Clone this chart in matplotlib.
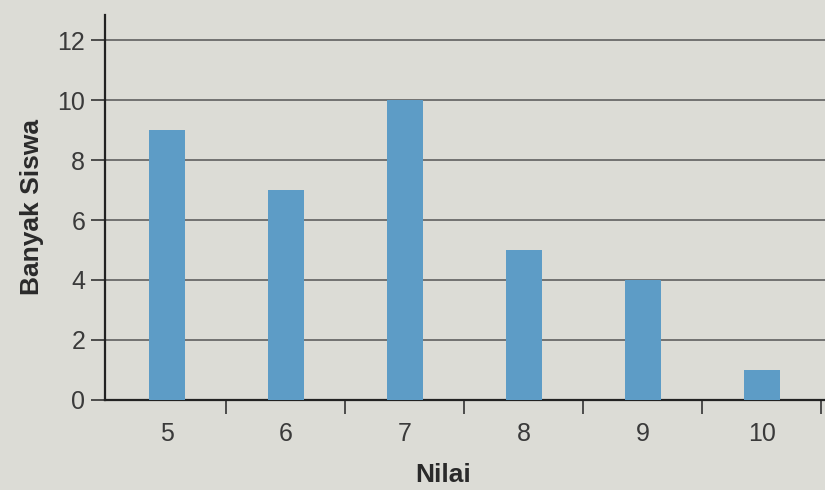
import matplotlib.pyplot as plt
import numpy as np

plt.rcParams['font.family'] = ['Liberation Sans', 'DejaVu Sans']

nilai = [5, 6, 7, 8, 9, 10]
banyak_siswa = [9, 7, 10, 5, 4, 1]
y_ticks = [0, 2, 4, 6, 8, 10, 12]

bg = '#dcdcd6'
fig = plt.figure(figsize=(8.25, 4.9), dpi=100, facecolor=bg)
ax = fig.add_axes([0.127, 0.184, 0.873, 0.786], facecolor=bg)

x = np.arange(len(nilai))
ax.bar(x, banyak_siswa, width=0.3, color='#5d9cc6', zorder=3)

ax.set_xlim(-0.52, len(nilai) - 0.47)
ax.set_ylim(0, 12.85)
ax.set_yticks(y_ticks)
ax.yaxis.grid(True, color='#555555', linewidth=1.1, zorder=0)

ax.set_xticks(x, [str(v) for v in nilai])
ax.set_xticks(np.arange(len(nilai)) + 0.5, minor=True)
ax.tick_params(axis='x', which='major', length=0, pad=16, labelsize=18, labelcolor='#3a3a3a')
ax.tick_params(axis='x', which='minor', length=10, width=1.2, color='#333333')
ax.tick_params(axis='y', length=10, width=1.2, color='#333333', labelsize=18, labelcolor='#3a3a3a', pad=4)

for side in ['top', 'right']:
    ax.spines[side].set_visible(False)
for side in ['left', 'bottom']:
    ax.spines[side].set_color('#222222')
    ax.spines[side].set_linewidth(1.6)

ax.set_ylabel('Banyak Siswa', fontsize=19, fontweight='bold', color='#2a2a2a', labelpad=10)
ax.set_xlabel('Nilai', fontsize=19, fontweight='bold', color='#2a2a2a')
ax.xaxis.set_label_coords(0.47, -0.165)

fig.savefig('out.png', dpi=100, facecolor=bg)
